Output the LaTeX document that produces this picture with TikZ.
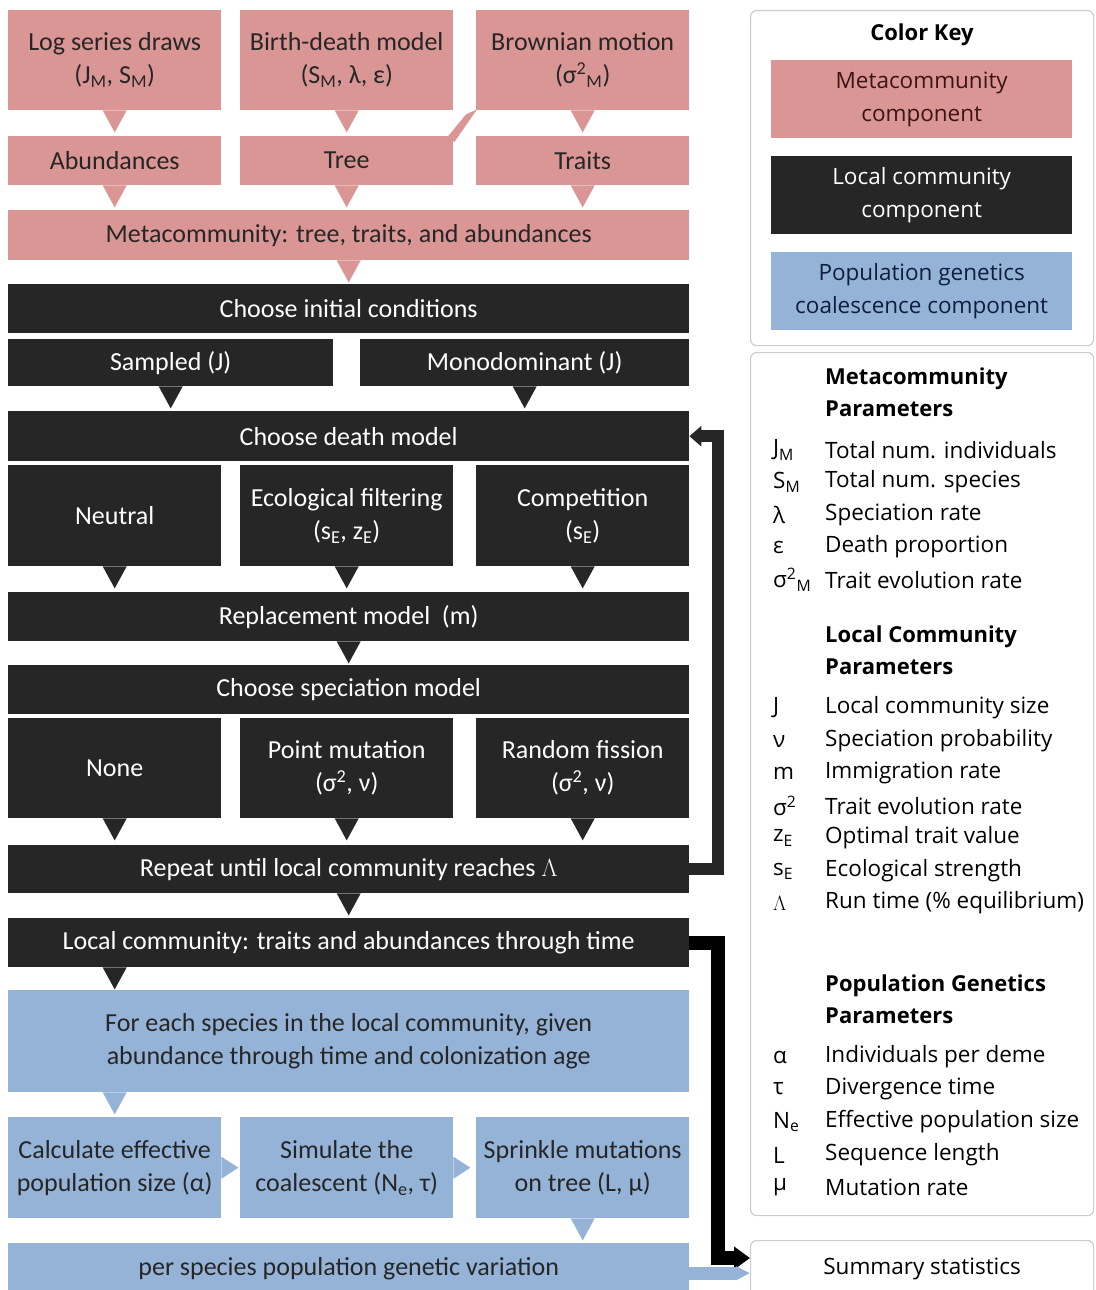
\documentclass[tikz,border=0pt]{standalone}
\usepackage{fontspec}
\setmainfont{Carlito}
\newfontfamily\panelfont{Open Sans}
\usepackage{tikz}
\usetikzlibrary{arrows.meta,calc}

\definecolor{metapink}{RGB}{217,150,148}
\definecolor{localdark}{RGB}{38,38,38}
\definecolor{genblue}{RGB}{149,179,215}
\definecolor{textdark}{RGB}{38,38,38}
\definecolor{panelgray}{RGB}{205,205,205}

\tikzset{
  flowbox/.style={inner sep=0pt, align=center, anchor=north west, font=\fontsize{26}{33}\selectfont},
  metabox/.style={flowbox, fill=metapink, text=textdark},
  localbox/.style={flowbox, fill=localdark, text=white},
  genbox/.style={flowbox, fill=genblue, text=textdark},
  panel/.style={draw=panelgray, line width=1.2pt, rounded corners=6pt, fill=white, anchor=north west, inner sep=0pt},
  paneltext/.style={inner sep=0pt, font=\panelfont\fontsize{22.5}{33}\selectfont},
  parhead/.style={paneltext, anchor=west, align=left, font=\panelfont\bfseries\fontsize{22}{32}\selectfont},
  parsym/.style={paneltext, anchor=west},
  partxt/.style={paneltext, anchor=west}
}

\begin{document}
\begin{tikzpicture}[x=1pt,y=1pt,yscale=-1,xscale=1]
\useasboundingbox (0,0) rectangle (1095,1290);

% Metacommunity boxes
\node[metabox, minimum width=213pt, minimum height=100pt] (lsd) at (8,10) {Log series draws\\(J\textsubscript{M}, S\textsubscript{M})};
\node[metabox, minimum width=213pt, minimum height=100pt] (bdm) at (240,10) {Birth-death model\\(S\textsubscript{M}, λ, ε)};
\node[metabox, minimum width=213pt, minimum height=100pt] (bm) at (476,10) {Brownian motion\\(σ\textsuperscript{2}\textsubscript{M})};
\node[metabox, minimum width=213pt, minimum height=49pt] (abund) at (8,136) {Abundances};
\node[metabox, minimum width=213pt, minimum height=49pt] (tree) at (240,136) {Tree};
\node[metabox, minimum width=213pt, minimum height=49pt] (traits) at (476,136) {Traits};
\node[metabox, minimum width=681pt, minimum height=50pt] (meta) at (8,210) {Metacommunity: tree, traits, and abundances};

%Shape: Callout
\fill[metapink] ($(bm.south west)+(1,-1)$) -- ($(bm.south west)+(-10,4)$) -- ($(tree.north east)+(-6,1)$) -- ($(tree.north east)+(1,6)$) -- cycle;
\foreach \n in {lsd,bdm,bm,abund,tree,traits,meta}
  \fill[metapink] ($(\n.south)+(-12,0)$) -- ($(\n.south)+(12,0)$) -- ($(\n.south)+(0,22)$) -- cycle;

% Local community boxes
\node[localbox, minimum width=681pt, minimum height=49pt] (init) at (8,284) {Choose initial conditions};
\node[localbox, minimum width=325pt, minimum height=47pt] (sampled) at (8,339) {Sampled (J)};
\node[localbox, minimum width=329pt, minimum height=47pt] (mono) at (360,339) {Monodominant (J)};
\node[localbox, minimum width=681pt, minimum height=50pt] (death) at (8,411) {Choose death model};
\node[localbox, minimum width=213pt, minimum height=101pt] (neutral) at (8,465) {Neutral};
\node[localbox, minimum width=213pt, minimum height=101pt] (ecofilt) at (240,465) {Ecological filtering\\(s\textsubscript{E}, z\textsubscript{E})};
\node[localbox, minimum width=213pt, minimum height=101pt] (comp) at (476,465) {Competition\\(s\textsubscript{E})};
\node[localbox, minimum width=681pt, minimum height=49pt] (repl) at (8,592) {Replacement model~~(m)};
\node[localbox, minimum width=681pt, minimum height=49pt] (spec) at (8,665) {Choose speciation model};
\node[localbox, minimum width=213pt, minimum height=100pt] (none) at (8,718) {None};
\node[localbox, minimum width=213pt, minimum height=100pt] (pointmut) at (240,718) {Point mutation\\(σ\textsuperscript{2}, ν)};
\node[localbox, minimum width=213pt, minimum height=100pt] (fission) at (476,718) {Random fission\\(σ\textsuperscript{2}, ν)};
\node[localbox, minimum width=681pt, minimum height=48pt] (repeat) at (8,845) {Repeat until local community reaches $\Lambda$};
\node[localbox, minimum width=681pt, minimum height=49pt] (localtime) at (8,918) {Local community: traits and abundances through time};

\foreach \n in {sampled,mono,neutral,ecofilt,comp,repl,none,pointmut,fission,repeat}
  \fill[localdark] ($(\n.south)+(-12,0)$) -- ($(\n.south)+(12,0)$) -- ($(\n.south)+(0,22)$) -- cycle;
\fill[localdark] ($(localtime.south -| none.south)+(-12,0)$) -- ($(localtime.south -| none.south)+(12,0)$) -- ($(localtime.south -| none.south)+(0,22)$) -- cycle;

% Population genetics boxes
\node[genbox, minimum width=681pt, minimum height=102pt] (each) at (8,990) {For each species in the local community, given\\abundance through time and colonization age};
\node[genbox, minimum width=213pt, minimum height=101pt] (calc) at (8,1117) {Calculate effective\\population size (α)};
\node[genbox, minimum width=213pt, minimum height=101pt] (coal) at (240,1117) {Simulate the\\coalescent (N\textsubscript{e}, τ)};
\node[genbox, minimum width=213pt, minimum height=101pt] (sprinkle) at (476,1117) {Sprinkle mutations\\on tree (L, μ)};
\node[genbox, minimum width=681pt, minimum height=50pt] (perspecies) at (8,1243) {per species population genetic variation};

\fill[genblue] ($(each.south -| calc.south)+(-12,0)$) -- ($(each.south -| calc.south)+(12,0)$) -- ($(each.south -| calc.south)+(0,22)$) -- cycle;
\fill[genblue] ($(sprinkle.south)+(-12,0)$) -- ($(sprinkle.south)+(12,0)$) -- ($(sprinkle.south)+(0,22)$) -- cycle;
\foreach \n in {calc,coal}
  \fill[genblue] ($(\n.east)+(0,-11)$) -- ($(\n.east)+(0,11)$) -- ($(\n.east)+(17,0)$) -- cycle;

% Right panels
\node[panel, minimum width=343pt, minimum height=335pt] (keypanel) at (750,10) {};
\node[paneltext, font=\panelfont\bfseries\fontsize{22}{24}\selectfont] (keytitle) at (922,35) {Color Key};
\node[metabox, minimum width=301pt, minimum height=78pt, font=\panelfont\fontsize{22.5}{33}\selectfont, text={rgb,255:red,60;green,20;blue,20}] (keymeta) at (771,60) {Metacommunity\\component};
\node[localbox, minimum width=301pt, minimum height=78pt, font=\panelfont\fontsize{22.5}{33}\selectfont] (keylocal) at (771,156) {Local community\\component};
\node[genbox, minimum width=301pt, minimum height=78pt, font=\panelfont\fontsize{22.5}{33}\selectfont, text={rgb,255:red,15;green,30;blue,60}] (keygen) at (771,252) {Population genetics\\coalescence component};

\node[panel, minimum width=343pt, minimum height=863pt] (parpanel) at (750,352) {};
\node[parhead] (metahead) at (825,392) {Metacommunity\\Parameters};
\foreach \y/\sym/\txt [count=\i] in {450/{J\textsubscript{M}}/{Total num. individuals},
    482/{S\textsubscript{M}}/{Total num. species}, 515/{λ}/{Speciation rate},
    547/{ε}/{Death proportion}, 580/{σ\textsuperscript{2}\textsubscript{M}}/{Trait evolution rate}}
  {\node[parsym] (msym\i) at (773,\y) {\sym};
   \node[partxt] (mtxt\i) at (825,\y) {\txt};}

\node[parhead] (localhead) at (825,650) {Local Community\\Parameters};
\foreach \y/\sym/\txt [count=\i] in {708/{J}/{Local community size},
    741/{ν}/{Speciation probability}, 773/{m}/{Immigration rate},
    806/{σ\textsuperscript{2}}/{Trait evolution rate}, 838/{z\textsubscript{E}}/{Optimal trait value},
    871/{s\textsubscript{E}}/{Ecological strength}, 903/{$\Lambda$}/{Run time (\% equilibrium)}}
  {\node[parsym] (lsym\i) at (773,\y) {\sym};
   \node[partxt] (ltxt\i) at (825,\y) {\txt};}

\node[parhead] (genhead) at (825,999) {Population Genetics\\Parameters};
\foreach \y/\sym/\txt [count=\i] in {1057/{α}/{Individuals per deme},
    1089/{τ}/{Divergence time}, 1122/{N\textsubscript{e}}/{Effective population size},
    1155/{L}/{Sequence length}, 1187/{μ}/{Mutation rate}}
  {\node[parsym] (gsym\i) at (773,\y) {\sym};
   \node[partxt] (gtxt\i) at (825,\y) {\txt};}

\node[panel, minimum width=343pt, minimum height=56pt] (summary) at (750,1240) {};
\node[paneltext] (sumtxt) at (summary.center) {Summary statistics};

%Connectors
\coordinate (loopx) at (718,0);
\coordinate (railend) at (718,1258);
\draw[localdark, line width=12pt, line join=miter, -{Triangle[length=12pt,width=20pt]}]
  (repeat.east) -| (loopx |- death.east) -- (death.east);
\draw[black, line width=14pt, line join=miter, -{Triangle[length=16pt,width=22pt]}]
  (localtime.east) -| (railend) -- (railend -| summary.west);
\draw[genblue, line width=13pt, -{Triangle[length=14pt,width=13pt]}]
  ($(perspecies.east)+(0,5)$) -- ($(perspecies.east -| summary.west)+(0,5)$);

\end{tikzpicture}
\end{document}
